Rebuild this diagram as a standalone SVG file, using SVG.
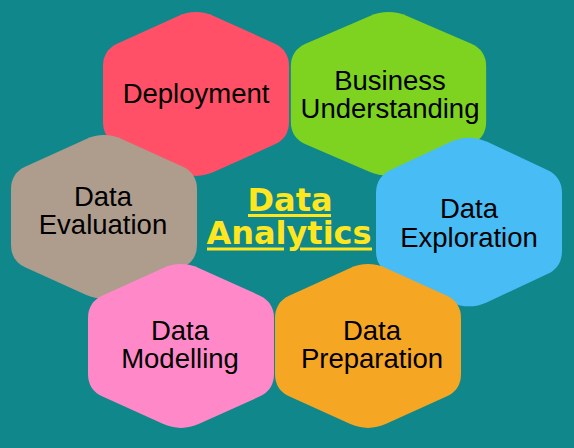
<svg xmlns="http://www.w3.org/2000/svg" xmlns:xlink="http://www.w3.org/1999/xlink" width="574" height="448" viewBox="0 0 574 448">
<defs>
<path id="hex" d="M 18.2,-77.8 L 78.4,-50.6 Q 93,-44 93,-28 L 93,28 Q 93,44 78.4,50.6 L 18.2,77.8 Q 0,86 -18.2,77.8 L -78.4,50.6 Q -93,44 -93,28 L -93,-28 Q -93,-44 -78.4,-50.6 L -18.2,-77.8 Q 0,-86 18.2,-77.8 Z"/>
</defs>
<style>
.lbl{font-family:"Liberation Sans",Arial,sans-serif;font-size:27.5px;fill:#000;text-anchor:middle}
.title{font-family:"DejaVu Sans",Verdana,sans-serif;font-weight:bold;font-size:32px;fill:#FFE61E;text-anchor:middle}
.ul{fill:#FFE61E}
</style>
<rect x="0" y="0" width="574" height="448" fill="#10878B"/>
<g id="connectors"/>
<g id="deployment">
<use xlink:href="#hex" href="#hex" transform="translate(196,94)" fill="#FF5068"/>
<text class="lbl" x="196" y="103">Deployment</text>
</g>
<g id="business-understanding">
<use xlink:href="#hex" href="#hex" transform="translate(388.5,94) scale(1.05,1)" fill="#7ED321"/>
<text class="lbl" x="390" y="90">Business</text>
<text class="lbl" x="390" y="118">Understanding</text>
</g>
<g id="data-evaluation">
<use xlink:href="#hex" href="#hex" transform="translate(104,217)" fill="#AE9C8D"/>
<text class="lbl" x="103" y="206">Data</text>
<text class="lbl" x="103" y="234">Evaluation</text>
</g>
<g id="data-exploration">
<use xlink:href="#hex" href="#hex" transform="translate(469,222) scale(1,1.03)" fill="#48BCF5"/>
<text class="lbl" x="469" y="218">Data</text>
<text class="lbl" x="469" y="247">Exploration</text>
</g>
<g id="data-modelling">
<use xlink:href="#hex" href="#hex" transform="translate(181,346)" fill="#FF89C8"/>
<text class="lbl" x="180" y="340">Data</text>
<text class="lbl" x="180" y="368">Modelling</text>
</g>
<g id="data-preparation">
<use xlink:href="#hex" href="#hex" transform="translate(368,346)" fill="#F5A623"/>
<text class="lbl" x="372" y="340">Data</text>
<text class="lbl" x="372" y="368">Preparation</text>
</g>
<g id="data-analytics">
<text class="title" x="290" y="211">Data</text>
<rect class="ul" x="248" y="214" width="83" height="3"/>
<text class="title" x="289" y="244">Analytics</text>
<rect class="ul" x="207" y="247.5" width="77" height="3"/>
<rect class="ul" x="300" y="247.5" width="72" height="3"/>
</g>
</svg>
